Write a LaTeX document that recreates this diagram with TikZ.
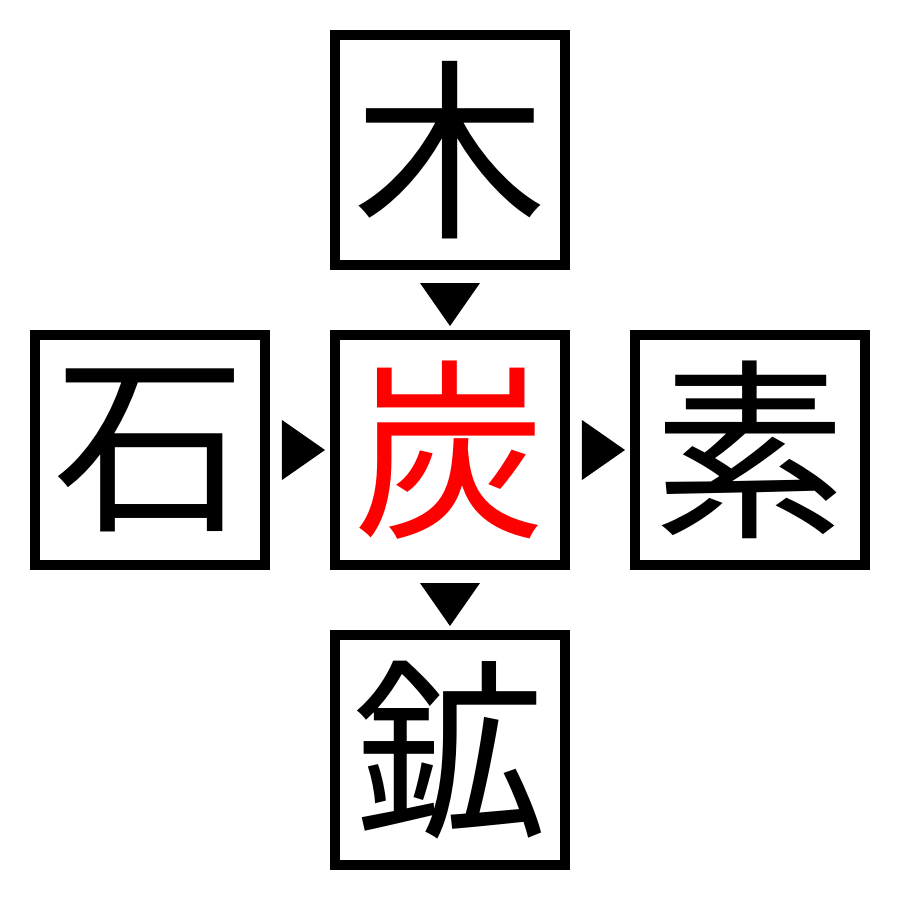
\documentclass[tikz,border=0pt]{standalone}
\usepackage{fontspec}
\newfontfamily\jp{Noto Sans CJK JP}
\usetikzlibrary{calc}
\tikzset{
  kbox/.style={draw, line width=0.1cm, minimum size=2.3cm, inner sep=0pt, font=\jp\fontsize{55}{55}\selectfont}
}
\begin{document}
\begin{tikzpicture}
            \useasboundingbox (-4.5,-4.5) rectangle (4.5,4.5);
            \node[kbox] (ki) at (0,3) {木};
            \node[kbox, text=red] (tan) at (0,0) {炭};
            \node[kbox] (ishi) at (-3,0) {石};
            \node[kbox] (so) at (3,0) {素};
            \node[kbox] (kou) at (0,-3) {鉱};
            \fill ($(ki.south)+(-0.3,-0.13)$) -- ++(0.6,0) -- ++(-0.3,-0.43) -- cycle;
            \fill ($(tan.south)+(-0.3,-0.13)$) -- ++(0.6,0) -- ++(-0.3,-0.43) -- cycle;
            \fill ($(ishi.east)+(0.12,0.3)$) -- ++(0,-0.6) -- ++(0.43,0.3) -- cycle;
            \fill ($(tan.east)+(0.12,0.3)$) -- ++(0,-0.6) -- ++(0.43,0.3) -- cycle;
        \end{tikzpicture}
\end{document}
